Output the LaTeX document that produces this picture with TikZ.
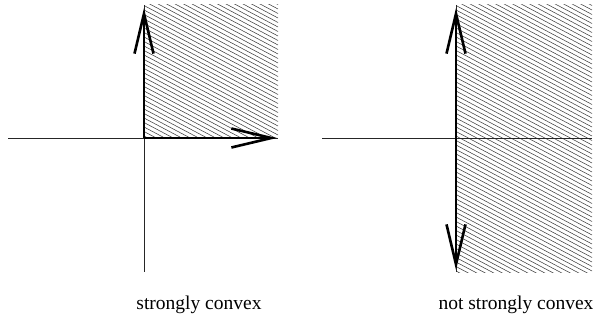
\documentclass[tikz,border=0pt]{standalone}
\usepackage{fontspec}
\setmainfont{Liberation Serif}
\usetikzlibrary{arrows.meta}
\begin{document}
\begin{tikzpicture}[x=1pt,y=-1pt,
  axis/.style={line width=0.8pt,black!85},
  hatchline/.style={line width=0.55pt,black!75},
  vec/.style={line width=2.6pt,-{Straight Barb[length=40pt,width=19pt,line width=2.6pt]}},
  lbl/.style={font=\fontsize{19.5}{22}\selectfont,inner sep=0pt}]
\useasboundingbox (0,0) rectangle (594,326);
% left
\coordinate (o1) at (144,138);
\coordinate (t1) at (144,8);
\coordinate (r1) at (277,138);
\begin{scope}
  \clip (144,5) rectangle (278,138);
  \foreach \k in {-80,-75.5,...,140} {\draw[hatchline] (144,\k) -- (278,\k+71);}
\end{scope}
\draw[axis] (8,138) -- (278,138);
\draw[axis] (144,5) -- (144,272);
\draw[vec] (o1) -- (t1);
\draw[vec] (o1) -- (r1);
\node[lbl] (l1) at (199,305) {strongly convex};
% right
\coordinate (o2) at (456,138);
\coordinate (t2) at (456,8);
\coordinate (b2) at (456,270);
\begin{scope}
  \clip (456,5) rectangle (592,272);
  \foreach \k in {-80,-75.5,...,275} {\draw[hatchline] (456,\k) -- (592,\k+72);}
\end{scope}
\draw[axis] (322,138) -- (592,138);
\draw[axis] (456,5) -- (456,272);
\draw[vec] (o2) -- (t2);
\draw[vec] (o2) -- (b2);
\node[lbl] (l2) at (516,305) {not strongly convex};
\end{tikzpicture}
\end{document}
